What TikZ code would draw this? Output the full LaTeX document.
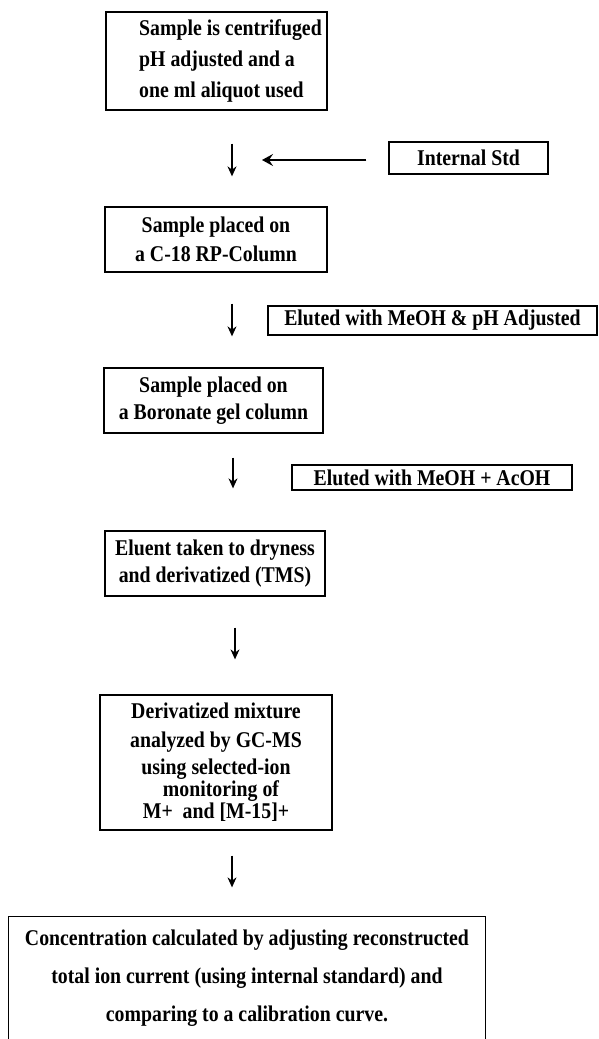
\documentclass[tikz,border=0pt]{standalone}
\usepackage{fontspec}
\setmainfont{Liberation Serif}[FakeStretch=0.88]
\usetikzlibrary{arrows.meta}

\begin{document}
\begin{tikzpicture}[x=1pt,y=-1pt,
  box/.style={draw,line width=1.3pt,inner sep=0pt,align=center,
    font=\fontsize{22.5}{29}\selectfont\bfseries},
  openbox/.style={box,draw=none},
  down/.style={-{Stealth[length=10pt,width=9pt]},line width=1.2pt},
  feed/.style={-{Stealth[length=11pt,width=12pt,inset=4pt]},line width=2.2pt}]

\useasboundingbox[fill=white] (0,0) rectangle (598,1039);

% main sequence of steps
\node[box,align=left,minimum width=221pt,minimum height=98pt,
      font=\fontsize{22.5}{31}\selectfont\bfseries] (b1) at (216.5,61)
  {\hspace*{28pt}Sample is centrifuged\\
   \hspace*{28pt}pH adjusted and a\\
   \hspace*{28pt}one ml aliquot used};

\node[box,minimum width=222pt,minimum height=65pt] (b2) at (216,239.5)
  {Sample placed on\\ a C-18 RP-Column};

\node[box,minimum width=219pt,minimum height=65pt,
      font=\fontsize{22.5}{27}\selectfont\bfseries] (b3) at (213.5,400.5)
  {Sample placed on\\ a Boronate gel column};

\node[box,minimum width=220pt,minimum height=65pt,
      font=\fontsize{22.5}{27}\selectfont\bfseries] (b4) at (215,563.5)
  {Eluent taken to dryness\\ and derivatized (TMS)};

\node[box,minimum width=232pt,minimum height=135pt,
      font=\fontsize{22.5}{30}\selectfont\bfseries] (b5) at (216,762.5)
  {Derivatized mixture\\[-1pt] analyzed by GC-MS\\[-3pt]
   using selected-ion\\[-8pt] \hspace*{10pt}monitoring of\\[-8pt]
   M+\ \ and [M-15]+};

% final step, box runs off the lower edge
\node[openbox,minimum width=476pt,minimum height=122pt,
      font=\fontsize{22.5}{38}\selectfont\bfseries] (fin) at (247,978)
  {Concentration calculated by adjusting reconstructed\\
   total ion current (using internal standard) and\\
   comparing to a calibration curve.};
\draw[line width=1.3pt] (fin.south west) |- (fin.north east) -- (fin.south east);

% side inputs
\node[box,minimum width=159pt,minimum height=32pt] (std) at (468.5,158)
  {Internal Std};
\node[box,minimum width=329pt,minimum height=29pt] (el1) at (432.5,320.5)
  {Eluted with MeOH \& pH Adjusted};
\node[box,minimum width=280pt,minimum height=25pt] (el2) at (432,477.5)
  {Eluted with MeOH + AcOH};

% arrows between steps
\draw[down,shorten <=33pt,shorten >=30pt]
  ([xshift=15.5pt]b1.south) -- ([xshift=15.5pt]b1.south |- b2.north);
\draw[down,shorten <=31pt,shorten >=31pt]
  ([xshift=16pt]b2.south) -- ([xshift=16pt]b2.south |- b3.north);
\draw[down,shorten <=24pt,shorten >=42pt]
  ([xshift=19.5pt]b3.south) -- ([xshift=19.5pt]b3.south |- b4.north);
\draw[down,shorten <=31pt,shorten >=35pt]
  ([xshift=20pt]b4.south) -- ([xshift=20pt]b4.south |- b5.north);
\draw[down,shorten <=25pt,shorten >=29pt]
  ([xshift=16pt]b5.south) -- ([xshift=16pt]b5.south |- fin.north);

% internal standard added
\coordinate (mix) at (262,160);
\draw[feed,shorten <=22pt] (std.west |- mix) -- (mix);

\end{tikzpicture}
\end{document}
